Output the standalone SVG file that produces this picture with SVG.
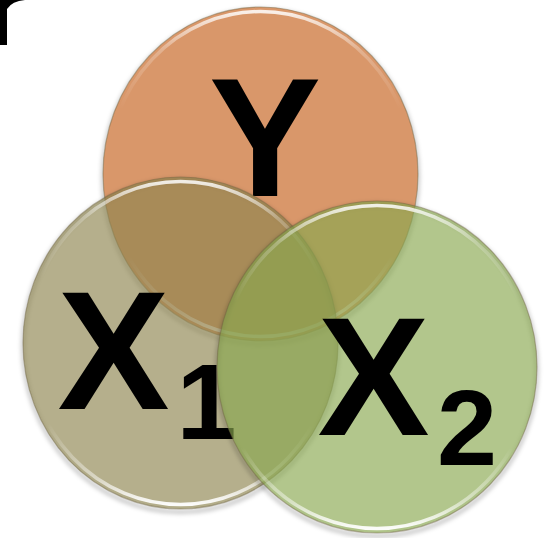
<svg xmlns="http://www.w3.org/2000/svg" width="548" height="538" viewBox="0 0 548 538">
  <style>
    .lbl { font-family: "Liberation Sans", Arial, sans-serif; font-weight: bold; fill: #000; }
    .big { font-size: 168px; }
    .sub { font-size: 108px; }
    .edge { fill: none; stroke: #6e6440; stroke-opacity: 0.45; stroke-width: 1.2; }
    .rim { fill: none; stroke: url(#rimGrad); stroke-width: 3.5; }
    .shadow { fill: none; stroke: #000; stroke-opacity: 0.22; stroke-width: 4; filter: url(#blur); }
  </style>
  <defs>
    <linearGradient id="rimGrad" x1="0" y1="0" x2="0" y2="1">
      <stop offset="0" stop-color="#fff" stop-opacity="0.85"/>
      <stop offset="0.12" stop-color="#fff" stop-opacity="0.25"/>
      <stop offset="0.3" stop-color="#fff" stop-opacity="0"/>
      <stop offset="0.75" stop-color="#fff" stop-opacity="0"/>
      <stop offset="0.92" stop-color="#fff" stop-opacity="0.5"/>
      <stop offset="1" stop-color="#fff" stop-opacity="0.95"/>
    </linearGradient>
    <filter id="blur" x="-10%" y="-10%" width="120%" height="120%">
      <feGaussianBlur stdDeviation="2"/>
    </filter>
  </defs>

  <path id="corner-mark" d="M0,0 H25 Q12,1 7,9 V45 H0 Z" fill="#000"/>

  <g id="node-Y">
    <ellipse class="shadow" cx="260.5" cy="177" rx="157.5" ry="167"/>
    <ellipse cx="260.5" cy="174" rx="157.5" ry="167" fill="#D9976A"/>
    <ellipse class="rim" cx="260.5" cy="174" rx="153" ry="162.5"/>
    <ellipse class="edge" cx="260.5" cy="174" rx="157.5" ry="167"/>
    <text class="lbl big" x="265" y="196" text-anchor="middle">Y</text>
  </g>

  <g id="node-X1">
    <ellipse class="shadow" cx="180.5" cy="346" rx="157.5" ry="166"/>
    <ellipse cx="180.5" cy="343" rx="157.5" ry="166" fill="rgb(141,132,78)" fill-opacity="0.65"/>
    <ellipse class="rim" cx="180.5" cy="343" rx="153" ry="161.5"/>
    <ellipse class="edge" cx="180.5" cy="343" rx="157.5" ry="166"/>
    <text class="lbl big" x="113.5" y="409" text-anchor="middle">X</text>
    <text class="lbl sub" x="206.5" y="439" text-anchor="middle">1</text>
  </g>

  <g id="node-X2">
    <ellipse class="shadow" cx="377" cy="370" rx="160" ry="166"/>
    <ellipse cx="377" cy="367" rx="160" ry="166" fill="rgb(136,167,78)" fill-opacity="0.65"/>
    <ellipse class="rim" cx="377" cy="367" rx="155.5" ry="161.5"/>
    <ellipse class="edge" cx="377" cy="367" rx="160" ry="166"/>
    <text class="lbl big" x="373.5" y="435" text-anchor="middle">X</text>
    <text class="lbl sub" x="467" y="465" text-anchor="middle">2</text>
  </g>
</svg>
